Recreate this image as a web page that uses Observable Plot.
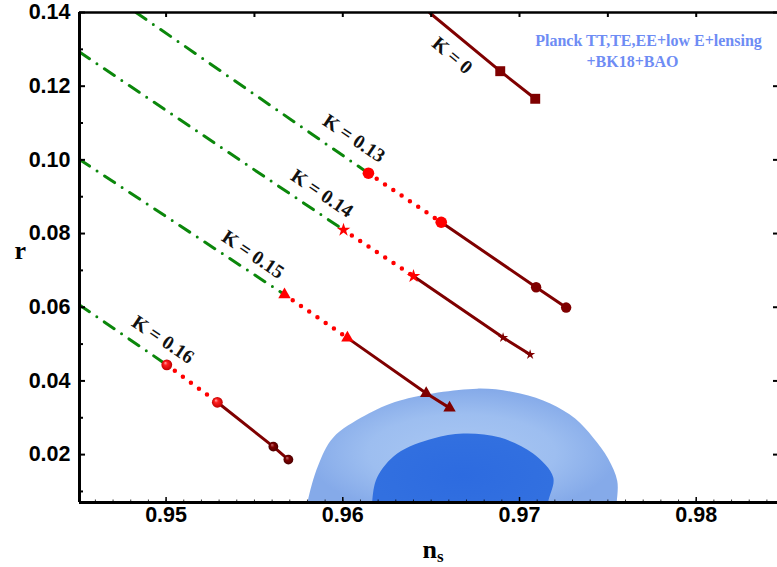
<!DOCTYPE html>
<html><head><meta charset="utf-8">
<script src="https://cdn.jsdelivr.net/npm/d3@7"></script>
<script src="https://cdn.jsdelivr.net/npm/@observablehq/plot@0.6"></script>
<style>body{margin:0;background:#fff} svg{display:block}</style>
</head><body><div id="chart"></div>
<script>
// ---- tick values ----
const xTicks = [0.95, 0.96, 0.97, 0.98];
const xTopTicks = [0.95, 0.955, 0.96, 0.965, 0.97, 0.975, 0.98];
const xMinorTicks = d3.range(946, 985).map(i => i / 1000);
const yTicks = [0.02, 0.04, 0.06, 0.08, 0.10, 0.12, 0.14];
const yMinorTicks = [0.01, 0.03, 0.05, 0.07, 0.09, 0.11, 0.13];
const xDomain = [0.9451, 0.9846];
const yDomain = [0.007, 0.14];

// ---- K = 0 (squares) ----
const k0Ns = [0.9649, 0.96891, 0.97089];
const k0R  = [0.1400, 0.12407, 0.11658];

// ---- K = 0.13..0.16: [red1, red2, dark1, dark2] ----
const k13Ns = [0.96145, 0.96557, 0.97094, 0.97264];
const k13R  = [0.09638, 0.08307, 0.06542, 0.05991];
const k14Ns = [0.96004, 0.96400, 0.96907, 0.97060];
const k14R  = [0.08100, 0.06841, 0.05177, 0.04715];
const k15Ns = [0.95670, 0.96026, 0.96472, 0.96604];
const k15R  = [0.06344, 0.05169, 0.03664, 0.03268];
const k16Ns = [0.95004, 0.95290, 0.95607, 0.95692];
const k16R  = [0.04436, 0.03420, 0.02217, 0.01864];
// green dash-dot start points (K = 0.13, 0.14, 0.15, 0.16)
const greenStartNs = [0.9483, 0.9451, 0.9451, 0.9451];
const greenStartR  = [0.1400, 0.12926, 0.1001, 0.06062];

// ---- labels ----
const kLabels = ["K = 0", "K = 0.13", "K = 0.14", "K = 0.15", "K = 0.16"];
const kLabelNs = [0.96619, 0.96064, 0.95883, 0.95492, 0.94983];
const kLabelR  = [0.12833, 0.10580, 0.09087, 0.07430, 0.05122];
const kLabelAngle = [40, 34, 34, 34, 34];
const legendLines = ["Planck TT,TE,EE+low E+lensing", "+BK18+BAO"];

// ---- Planck contours ----
const outerNs = [0.9579, 0.9580, 0.9586, 0.95945, 0.96126, 0.96324, 0.9676, 0.97004, 0.97174, 0.97315, 0.97417, 0.97502, 0.97553, 0.9755, 0.9754];
const outerR  = [0.003, 0.007, 0.017, 0.0246, 0.0306, 0.0347, 0.0379, 0.0366, 0.0339, 0.0298, 0.0246, 0.0189, 0.0129, 0.007, 0.003];
const innerNs = [0.96166, 0.96166, 0.96194, 0.96308, 0.96511, 0.96681, 0.96891, 0.97077, 0.97191, 0.97162, 0.9716];
const innerR  = [0.003, 0.007, 0.01376, 0.02027, 0.02434, 0.0257, 0.02462, 0.02027, 0.01376, 0.007, 0.003];

// ---- build tables ----
const zip = (ns, r, extra = {}) => ns.map((x, i) => ({x, y: r[i], ...extra}));
const kSeries = [
  {k: "0.13", ns: k13Ns, r: k13R},
  {k: "0.14", ns: k14Ns, r: k14R},
  {k: "0.15", ns: k15Ns, r: k15R},
  {k: "0.16", ns: k16Ns, r: k16R}
];
const greenData = kSeries.flatMap((s, i) => [
  {k: s.k, x: greenStartNs[i], y: greenStartR[i]},
  {k: s.k, x: s.ns[0], y: s.r[0]}
]);
const redData = kSeries.flatMap(s => [0, 1].map(j => ({k: s.k, x: s.ns[j], y: s.r[j]})));
const darkData = kSeries.flatMap(s => [1, 2, 3].map(j => ({k: s.k, x: s.ns[j], y: s.r[j]})))
  .concat(zip(k0Ns, k0R, {k: "0"}));
const pts = (s, idx) => idx.map(j => ({x: s.ns[j], y: s.r[j]}));
const labelData = kLabels.map((t, i) => ({t, x: kLabelNs[i], y: kLabelR[i], a: kLabelAngle[i]}));

const W = 777, H = 567, mL = 79, mR = 0, mT = 12, mB = 65;
const innerW = W - mL - mR, innerH = H - mT - mB;
const serif = "Liberation Serif, Times New Roman, serif";
const sans = "Liberation Sans, Arial, sans-serif";
const DARK = "#7f0000", RED = "#ff0000", GREEN = "#0b870b";
const fmt = d3.format(".2f");

const plot = Plot.plot({
  width: W, height: H,
  marginLeft: mL, marginRight: mR, marginTop: mT, marginBottom: mB,
  x: {domain: xDomain, axis: null},
  y: {domain: yDomain, axis: null},
  style: {fontFamily: sans, background: "#fff", overflow: "visible"},
  marks: [
    // contours
    Plot.line(zip(outerNs, outerR), {x: "x", y: "y", curve: "catmull-rom", fill: "url(#outerGrad)", stroke: "none", clip: true}),
    Plot.line(zip(innerNs, innerR), {x: "x", y: "y", curve: "catmull-rom", fill: "url(#innerGrad)", stroke: "none", clip: true}),
    // lines
    Plot.line(greenData, {x: "x", y: "y", z: "k", stroke: GREEN, strokeWidth: 3, strokeDasharray: "12,9,0,9", strokeLinecap: "round", clip: true}),
    Plot.line(redData, {x: "x", y: "y", z: "k", stroke: RED, strokeWidth: 4.5, strokeDasharray: "0,10", strokeLinecap: "round"}),
    Plot.line(darkData, {x: "x", y: "y", z: "k", stroke: DARK, strokeWidth: 3, clip: true}),
    // markers K=0
    Plot.dot(zip(k0Ns, k0R).slice(1), {x: "x", y: "y", symbol: "square", r: 5.6, fill: DARK, stroke: "none"}),
    // K=0.13 circles
    Plot.dot(pts(kSeries[0], [0, 1]), {x: "x", y: "y", r: 5.8, fill: RED, stroke: "none"}),
    Plot.dot(pts(kSeries[0], [2, 3]), {x: "x", y: "y", r: 5.2, fill: DARK, stroke: "none"}),
    // K=0.14 stars
    Plot.dot(pts(kSeries[1], [0, 1]), {x: "x", y: "y", symbol: "star", r: 4.3, fill: RED, stroke: "none"}),
    Plot.dot(pts(kSeries[1], [2, 3]), {x: "x", y: "y", symbol: "star", r: 3.2, fill: DARK, stroke: "none"}),
    // K=0.15 triangles
    Plot.dot(pts(kSeries[2], [0, 1]), {x: "x", y: "y", symbol: "triangle", r: 4.6, fill: RED, stroke: "none"}),
    Plot.dot(pts(kSeries[2], [2, 3]), {x: "x", y: "y", symbol: "triangle", r: 4.6, fill: DARK, stroke: "none"}),
    // K=0.16 balls
    Plot.dot(pts(kSeries[3], [0, 1]), {x: "x", y: "y", r: 5.4, fill: "url(#redBall)", stroke: "none"}),
    Plot.dot(pts(kSeries[3], [2, 3]), {x: "x", y: "y", r: 4.9, fill: "url(#darkBall)", stroke: "none"}),
    // K labels
    Plot.text(labelData, {x: "x", y: "y", text: "t", rotate: "a", fontFamily: serif, fontWeight: "bold", fontSize: 19.5, fill: "#111"}),
    // legend
    Plot.text([legendLines[0]], {frameAnchor: "top-left", dx: 569, dy: 22, textAnchor: "middle", fontFamily: serif, fontWeight: "bold", fontSize: 16, fill: "#6e8cf4"}),
    Plot.text([legendLines[1]], {frameAnchor: "top-left", dx: 553, dy: 43, textAnchor: "middle", fontFamily: serif, fontWeight: "bold", fontSize: 16, fill: "#6e8cf4"}),
    // frame
    Plot.ruleY([yDomain[1]], {stroke: "#000", strokeWidth: 2.5}),
    Plot.ruleY([yDomain[0]], {stroke: "#000", strokeWidth: 3}),
    Plot.ruleX([xDomain[0]], {stroke: "#000", strokeWidth: 3}),
    // ticks
    Plot.ruleX(xTicks, {insetTop: innerH - 5, stroke: "#000", strokeWidth: 1.5}),
    Plot.ruleX(xMinorTicks, {insetTop: innerH - 2.5, stroke: "#000", strokeWidth: 0.8}),
    Plot.ruleX(xTopTicks, {insetBottom: innerH - 5, stroke: "#000", strokeWidth: 2}),
    Plot.ruleY(yTicks, {insetRight: innerW - 6, stroke: "#000", strokeWidth: 2}),
    Plot.ruleY(yMinorTicks, {insetRight: innerW - 4, stroke: "#000", strokeWidth: 2}),
    Plot.ruleY(yTicks, {insetLeft: innerW - 4, stroke: "#000", strokeWidth: 2}),
    // tick labels
    Plot.text(xTicks, {x: d => d, frameAnchor: "bottom", dy: 19, text: d => fmt(d), fontSize: 21.5, fontWeight: "bold", fill: "#000"}),
    Plot.text(yTicks, {y: d => d, frameAnchor: "left", dx: -9, textAnchor: "end", text: d => fmt(d), fontSize: 21.5, fontWeight: "bold", fill: "#000"}),
    // axis titles
    Plot.text(["r"], {frameAnchor: "top-left", dx: -65, dy: 228, fontFamily: serif, fontWeight: "bold", fontSize: 26, fill: "#000"}),
    Plot.text(["n"], {frameAnchor: "top-left", dx: 343, dy: 527, textAnchor: "start", fontFamily: serif, fontWeight: "bold", fontSize: 26, fill: "#000", className: "ns-title"})
  ]
});

// subscript s on the n_s axis title
d3.select(plot).select(".ns-title text").append("tspan").attr("dy", "0.25em").attr("font-size", 17).text("s");

// gradients
const defs = d3.select(plot).insert("defs", ":first-child");
function radial(id, stops, fx = "35%", fy = "30%") {
  const g = defs.append("radialGradient").attr("id", id).attr("cx", "50%").attr("cy", "50%").attr("r", "50%").attr("fx", fx).attr("fy", fy);
  stops.forEach(([o, c]) => g.append("stop").attr("offset", o).attr("stop-color", c));
}
radial("redBall", [["0%", "#ffb0b0"], ["35%", "#ff2020"], ["100%", "#c00000"]]);
radial("darkBall", [["0%", "#c87070"], ["40%", "#800000"], ["100%", "#4a0000"]]);
radial("outerGrad", [["0%", "#a9c7f3"], ["60%", "#9dbef0"], ["100%", "#85aae9"]], "50%", "50%");
radial("innerGrad", [["0%", "#2d6be0"], ["100%", "#3270e0"]], "50%", "50%");

document.getElementById("chart").appendChild(plot);
</script>
</body></html>
